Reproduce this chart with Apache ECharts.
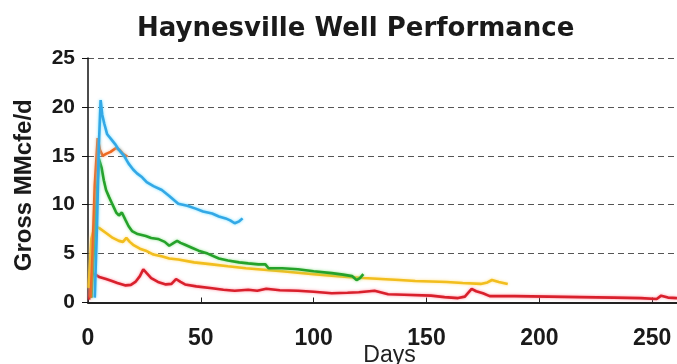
<!DOCTYPE html>
<html>
<head>
<meta charset="utf-8">
<script src="https://cdn.jsdelivr.net/npm/echarts@6/dist/echarts.min.js"></script>
<style>html,body{margin:0;padding:0;background:#fff;}#c{width:677px;height:364px;}</style>
</head>
<body>
<div id="c"></div>
<script>
var title = 'Haynesville Well Performance';
var xName = 'Days';
var yName = 'Gross MMcfe/d';
var xTicks = [0, 50, 100, 150, 200, 250];
var yTicks = [0, 5, 10, 15, 20, 25];

var cyanDays = [3, 4, 4.8, 5.6, 6.3, 7.2, 8.5, 10.6, 12, 13.7, 16, 18, 20, 21.7, 24, 26, 29, 32.7, 36, 40, 44, 47.7, 51, 55, 58, 61, 63, 65, 67, 68.5];
var cyanVals = [0.5, 8, 16, 20.7, 19.2, 18.3, 17.2, 16.6, 16.2, 15.6, 15.0, 14.2, 13.6, 13.2, 12.8, 12.3, 11.9, 11.5, 10.9, 10.1, 9.9, 9.6, 9.3, 9.1, 8.8, 8.6, 8.4, 8.1, 8.3, 8.6];

var orangeDays = [1.2, 2, 3, 4.3, 5.3, 6.5, 8, 10, 12.4, 14, 15.5, 17.5];
var orangeVals = [0.5, 5, 12, 16.8, 15.6, 15.0, 15.2, 15.4, 15.8, 15.6, 15.2, 14.9];

var greenDays = [1.5, 3, 4.8, 6, 7, 8, 9.3, 10.5, 11.5, 12.5, 13.7, 15, 16.7, 18, 19.5, 22, 25.6, 28, 31, 34, 36, 38, 39.5, 41, 43, 46, 49, 53, 58, 62, 67, 71, 75.5, 78.6, 80, 86, 93, 100, 108, 113, 117, 119, 120.5, 122];
var greenVals = [0.5, 7, 14.7, 13.8, 12.5, 11.5, 10.8, 10.2, 9.7, 9.2, 8.9, 9.2, 8.4, 7.8, 7.3, 7.0, 6.8, 6.6, 6.5, 6.2, 5.8, 6.1, 6.3, 6.1, 5.9, 5.6, 5.3, 5.0, 4.5, 4.3, 4.1, 4.0, 3.9, 3.9, 3.5, 3.5, 3.4, 3.2, 3.0, 2.85, 2.7, 2.3, 2.5, 2.9];

var yellowDays = [0.3, 1.5, 3, 5, 8, 11, 13.7, 15.5, 17, 18.5, 20, 23, 25.6, 29, 33, 36, 40, 47, 55, 62, 70, 78, 86, 93, 100, 108, 115, 122, 130, 138, 145, 152, 159, 166, 174, 177, 179, 182, 186];
var yellowVals = [1.5, 6.5, 7.8, 7.6, 7.1, 6.6, 6.3, 6.2, 6.6, 6.2, 5.9, 5.5, 5.3, 4.9, 4.7, 4.5, 4.4, 4.1, 3.9, 3.7, 3.5, 3.35, 3.2, 3.05, 2.9, 2.75, 2.6, 2.5, 2.4, 2.3, 2.2, 2.15, 2.1, 2.0, 1.9, 2.05, 2.3, 2.1, 1.9];

var redDays = [0.5, 1.5, 3, 5, 8, 10.6, 13, 16.7, 19, 21, 23, 24.5, 26, 28, 31, 34.5, 37, 39, 41, 43, 48, 55, 60, 65, 71, 75, 79, 85, 93, 100, 108, 115, 120, 127, 133, 140, 152, 158, 164, 167, 170, 172, 175, 178, 189, 204, 218, 233, 245, 252, 254, 257, 261];
var redVals = [0.3, 3.0, 2.9, 2.6, 2.4, 2.2, 2.0, 1.75, 1.8, 2.1, 2.7, 3.4, 3.0, 2.5, 2.1, 1.85, 1.9, 2.4, 2.1, 1.85, 1.65, 1.45, 1.3, 1.2, 1.3, 1.2, 1.4, 1.25, 1.2, 1.1, 0.95, 1.0, 1.05, 1.2, 0.85, 0.8, 0.7, 0.55, 0.45, 0.6, 1.4, 1.15, 0.95, 0.65, 0.65, 0.6, 0.55, 0.5, 0.45, 0.35, 0.7, 0.5, 0.45];

function pairs(xs, ys) { return xs.map(function (x, i) { return [x, ys[i]]; }); }
function line(name, xs, ys, color, glow) {
  return {
    name: name, type: 'line', data: pairs(xs, ys), showSymbol: false, symbol: 'none',
    lineStyle: { color: color, width: 2.6, shadowColor: glow, shadowBlur: 3 },
    z: 3, animation: false
  };
}

var chart = echarts.init(document.getElementById('c'));
chart.setOption({
  animation: false,
  backgroundColor: '#ffffff',
  title: {
    text: title, left: 132, top: 11,
    textStyle: { fontFamily: 'DejaVu Sans', fontWeight: 'bold', fontSize: 26, color: '#1a1a1a' }
  },
  grid: { left: 88, right: 0, top: 58, bottom: 61.5, containLabel: false, outerBoundsMode: 'none' },
  xAxis: {
    type: 'value', min: 0, max: 261, interval: 50,
    name: xName, nameLocation: 'middle', nameGap: 42, nameMoveOverlap: false,
    nameTextStyle: { fontFamily: 'Liberation Sans', fontSize: 23, color: '#222', padding: [0, 0, 0, 14] },
    axisLine: { show: true, lineStyle: { color: '#222', width: 2 } },
    axisTick: { show: true, inside: true, length: 5, lineStyle: { color: '#222' } },
    axisLabel: {
      margin: 25, fontFamily: 'Liberation Sans', fontWeight: 'bold', fontSize: 23, color: '#1a1a1a',
      showMaxLabel: false,
      formatter: function (v) { return xTicks.indexOf(v) >= 0 ? String(v) : ''; }
    },
    splitLine: { show: false }
  },
  yAxis: {
    type: 'value', min: 0, max: 25, interval: 5,
    name: yName, nameLocation: 'middle', nameGap: 52, nameMoveOverlap: false,
    nameTextStyle: { fontFamily: 'Liberation Sans', fontWeight: 'bold', fontSize: 24, color: '#1a1a1a', padding: [0, 10, 0, 0] },
    axisLine: { show: true, lineStyle: { color: '#111', width: 1.5 } },
    axisTick: { show: true, length: 6, lineStyle: { color: '#111' } },
    axisLabel: {
      margin: 13, fontFamily: 'Liberation Sans', fontWeight: 'bold', fontSize: 21, color: '#1a1a1a',
      formatter: function (v) { return yTicks.indexOf(v) >= 0 ? String(v) : ''; }
    },
    splitLine: { show: true, lineStyle: { color: '#555', width: 1, type: [6, 4] } }
  },
  series: [
    line('Red', redDays, redVals, '#D9202C', 'rgba(255,120,140,0.8)'),
    line('Yellow', yellowDays, yellowVals, '#F2BE1E', 'rgba(255,220,120,0.9)'),
    line('Green', greenDays, greenVals, '#25A22A', 'rgba(120,220,120,0.8)'),
    line('Orange', orangeDays, orangeVals, '#EE6A22', 'rgba(255,170,120,0.8)'),
    line('Cyan', cyanDays, cyanVals, '#33A8E6', 'rgba(100,220,255,0.9)')
  ]
});
</script>
</body>
</html>
